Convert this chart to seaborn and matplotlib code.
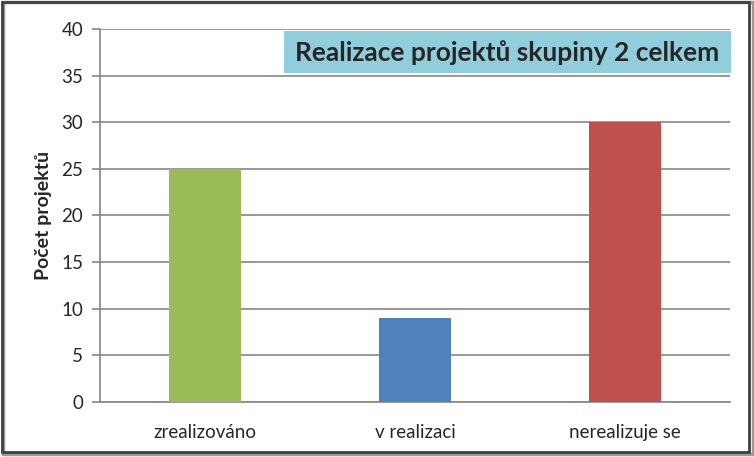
import matplotlib
matplotlib.use('Agg')
import matplotlib.pyplot as plt
import seaborn as sns
import pandas as pd
from matplotlib.patches import Rectangle

# data
categories = ['zrealizováno', 'v realizaci', 'nerealizuje se']
counts = [25, 9, 30]
bar_colors = ['#9BBB59', '#4F81BD', '#C0504D']

sns.set_style('white')
plt.rcParams['font.family'] = ['Lato', 'DejaVu Sans']

df = pd.DataFrame({'stav': categories, 'pocet': counts})

fig = plt.figure(figsize=(7.54, 4.57), dpi=100)
ax = fig.add_axes([100 / 754, 1 - 402 / 457, 630 / 754, 373 / 457])

sns.barplot(data=df, x='stav', y='pocet', hue='stav', palette=bar_colors,
            width=0.34, saturation=1, linewidth=0, legend=False, ax=ax,
            zorder=3)

ax.set_ylim(0, 40)
ax.set_yticks(range(0, 41, 5))
ax.set_xlim(-0.5, 2.5)
ax.grid(axis='y', color='#868686', linewidth=1.2, zorder=0)
ax.set_axisbelow(True)
for side in ['top', 'right']:
    ax.spines[side].set_visible(False)
for side in ['left', 'bottom']:
    ax.spines[side].set_color('#868686')
    ax.spines[side].set_linewidth(1.2)
ax.tick_params(axis='y', left=True, length=6, width=1.2, color='#868686',
               labelsize=13.5, pad=6)
ax.tick_params(axis='x', bottom=False, labelsize=13.5, pad=12)
ax.set_xlabel('')
ax.set_ylabel('Počet projektů', fontsize=14, fontweight='bold', labelpad=7)

# title box
fig.text(507 / 754, 1 - 53 / 457, 'Realizace projektů skupiny 2 celkem',
         ha='center', va='center', fontsize=19, fontweight='bold')
fig.patches.append(Rectangle((284 / 754, 1 - 73 / 457), 447 / 754, 42 / 457,
                             transform=fig.transFigure, facecolor='#92CDDC',
                             edgecolor='none', zorder=1))

# chart border with shadow
fig.patches.append(Rectangle((3 / 754, 3 / 457), 750 / 754, 452 / 457,
                             transform=fig.transFigure, facecolor='none',
                             edgecolor='#9a9a9a', linewidth=2.5))
fig.patches.append(Rectangle((1.5 / 754, 5 / 457), 747 / 754, 450 / 457,
                             transform=fig.transFigure, facecolor='none',
                             edgecolor='#404040', linewidth=2))

fig.savefig('out.png', dpi=100)
